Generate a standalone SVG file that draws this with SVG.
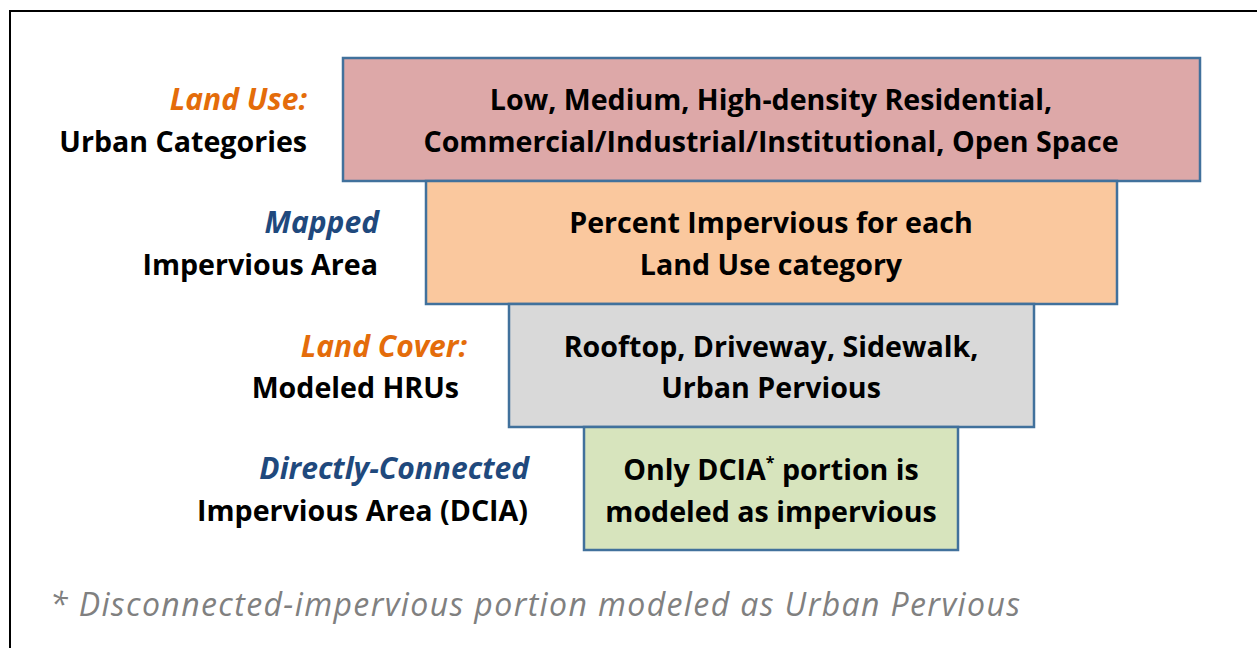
<svg xmlns="http://www.w3.org/2000/svg" width="1257" height="648" viewBox="0 0 1257 648">
<style>
.box{stroke:#41719C;stroke-width:2.5}
.t{font-family:"Open Sans",Lato,"Liberation Sans",sans-serif;font-weight:bold;font-size:28.6px;fill:#000}
.c{text-anchor:middle}
.r{text-anchor:end}
.it{font-style:italic;font-size:30px}
.or{fill:#E46C0A}
.bl{fill:#1F497D}
.fn{font-family:"Open Sans",Lato,"Liberation Sans",sans-serif;font-style:italic;font-size:32px;fill:#808080}
</style>
<rect x="10" y="11" width="1260" height="660" fill="none" stroke="#000" stroke-width="2"/>
<g id="labels">
<text class="t r it or" x="307" y="110">Land Use:</text>
<text class="t r" x="307" y="152">Urban Categories</text>
<text class="t r it bl" x="379" y="233">Mapped</text>
<text class="t r" x="378" y="275">Impervious Area</text>
<text class="t r it or" x="467" y="357">Land Cover:</text>
<text class="t r" x="459" y="398">Modeled HRUs</text>
<text class="t r it bl" x="529" y="479">Directly-Connected</text>
<text class="t r" x="528" y="521">Impervious Area (DCIA)</text>
</g>
<g id="connectors"></g>
<g id="node-landuse">
<rect class="box" x="343" y="58" width="857" height="123" fill="#DDA8A8"/>
<text class="t c" x="771" y="110">Low, Medium, High-density Residential,</text>
<text class="t c" x="771" y="152">Commercial/Industrial/Institutional, Open Space</text>
</g>
<g id="node-mapped">
<rect class="box" x="426" y="181" width="691" height="123" fill="#FAC89E"/>
<text class="t c" x="771" y="233">Percent Impervious for each</text>
<text class="t c" x="771" y="275">Land Use category</text>
</g>
<g id="node-landcover">
<rect class="box" x="509" y="304" width="525" height="123" fill="#D9D9D9"/>
<text class="t c" x="771" y="357">Rooftop, Driveway, Sidewalk,</text>
<text class="t c" x="771" y="398">Urban Pervious</text>
</g>
<g id="node-dcia">
<rect class="box" x="584" y="427" width="374" height="123" fill="#D7E4BD"/>
<text class="t c" x="771" y="480">Only DCIA<tspan font-size="16" dy="-12">*</tspan><tspan dy="12"> portion is</tspan></text>
<text class="t c" x="771" y="522">modeled as impervious</text>
</g>
<text class="fn" x="50" y="616" textLength="970">* Disconnected-impervious portion modeled as Urban Pervious</text>
</svg>
